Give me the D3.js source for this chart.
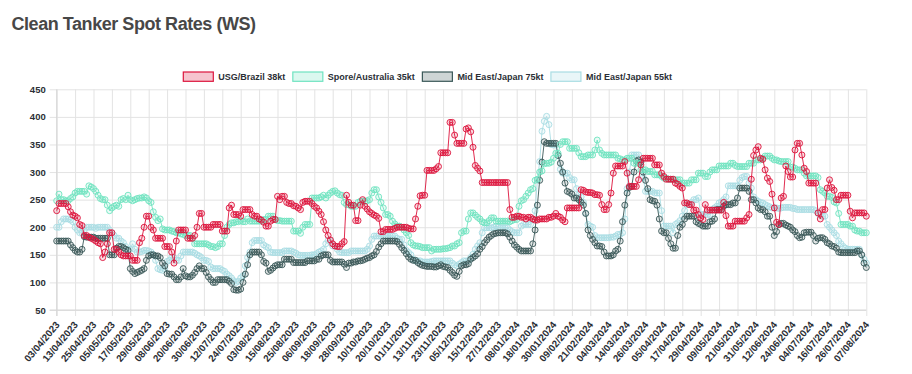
<!DOCTYPE html>
<html><head><meta charset="utf-8">
<script src="https://cdn.jsdelivr.net/npm/d3@7"></script>
<style>html,body{margin:0;padding:0;background:#fff;}svg{display:block;}</style>
</head><body><svg id="chart" width="912" height="374"></svg>
<script>
const chartTitle = "Clean Tanker Spot Rates (WS)";
const seriesNames = ["USG/Brazil 38kt", "Spore/Australia 35kt", "Mid East/Japan 75kt", "Mid East/Japan 55kt"];
const seriesColors = ["#dc143c", "#6fe3c0", "#3a5858", "#a9dde3"];
const startDate = "03/04/2023"; // weekday categories, 353 trading days
const tickLabels = ["03/04/2023","13/04/2023","25/04/2023","05/05/2023","17/05/2023","29/05/2023","08/06/2023","20/06/2023","30/06/2023","12/07/2023","24/07/2023","03/08/2023","15/08/2023","25/08/2023","06/09/2023","18/09/2023","28/09/2023","10/10/2023","20/10/2023","01/11/2023","13/11/2023","23/11/2023","05/12/2023","15/12/2023","27/12/2023","08/01/2024","18/01/2024","30/01/2024","09/02/2024","21/02/2024","04/03/2024","14/03/2024","26/03/2024","05/04/2024","17/04/2024","29/04/2024","09/05/2024","21/05/2024","31/05/2024","12/06/2024","24/06/2024","04/07/2024","16/07/2024","26/07/2024","07/08/2024"];
const yTicks = [50,100,150,200,250,300,350,400,450];

const usgBrazil38 = [
230,243,243,243,243,237,228,222, 220,217,205,203,185,185,182,180,
178,175,172,170,145,155,170,190, 190,160,160,155,150,148,148,148,
148,140,140,140,172,180,200,220, 220,200,195,180,180,180,180,165,
165,165,155,135,175,195,195,195, 195,180,180,180,185,200,225,225,
200,200,200,200,205,205,205,205, 193,193,193,235,240,223,223,223,
220,232,232,232,232,223,220,220, 215,213,209,202,202,211,214,214,
256,250,256,256,245,243,243,239, 238,235,232,245,247,247,247,243,
238,235,229,223,210,195,185,177, 170,166,165,165,170,174,258,245,
240,240,212,212,240,250,238,233, 228,225,222,220,216,192,192,196,
196,196,196,198,200,200,200,200, 200,198,197,197,215,238,257,258,
258,303,303,303,303,306,310,335, 335,335,335,390,390,367,352,352,
352,352,378,380,373,345,312,307, 302,281,281,281,281,281,281,281,
281,281,281,281,281,232,218,218, 220,220,218,218,215,218,218,215,
213,213,215,215,215,215,218,218, 220,225,220,218,213,210,235,235,
235,235,235,235,268,267,264,263, 263,262,259,259,258,241,232,232,
241,262,298,311,311,311,311,319, 298,274,274,274,274,286,313,325,
325,325,325,325,313,313,313,298, 292,287,287,287,287,280,278,274,
271,244,244,241,241,231,231,223, 217,214,241,231,231,231,231,231,
231,231,245,221,202,202,202,211, 211,211,211,211,217,223,287,330,
340,346,325,323,304,289,283,260, 235,209,205,253,256,311,301,291,
291,340,352,352,331,307,301,280, 280,280,280,226,215,232,232,271,
286,272,267,250,250,258,258,258, 258,229,217,226,226,226,226,226,
220];

const sporeAustralia35 = [
248,260,250,250,248,248,252,255, 262,265,265,265,265,260,275,273,
270,265,258,252,250,250,240,230, 235,238,240,238,250,252,250,258,
250,248,250,252,253,253,255,253, 248,245,228,218,212,215,197,195,
195,195,193,192,190,190,188,187, 185,185,185,180,170,170,170,170,
170,170,168,165,165,163,165,170, 170,185,200,205,208,208,210,210,
212,210,210,215,211,211,211,211, 211,211,214,214,220,220,220,214,
212,212,211,211,211,211,211,193, 193,193,189,200,205,205,205,253,
253,253,253,255,258,253,258,262, 265,266,262,259,258,245,241,241,
238,238,238,245,247,247,247,248, 250,262,268,268,255,245,235,223,
223,220,211,206,202,202,200,195, 190,185,172,168,166,166,165,163,
163,163,163,157,160,160,160,160, 161,161,162,163,166,166,170,172,
190,193,193,215,226,226,222,218, 215,210,208,208,212,217,217,211,
211,211,211,211,211,210,212,214, 214,238,248,250,256,262,268,270,
285,287,300,302,315,316,316,318, 325,334,334,350,355,355,355,343,
343,343,343,335,328,328,328,331, 331,331,340,358,340,334,331,331,
331,331,331,331,325,324,322,322, 325,325,325,316,316,316,304,304,
304,301,301,301,295,295,295,292, 289,289,287,287,287,286,286,286,
280,280,280,280,286,286,286,298, 298,298,292,292,300,304,304,304,
311,311,311,311,311,316,316,312, 310,310,310,310,310,316,316,316,
322,322,322,325,329,329,329,325, 322,322,320,319,319,319,319,309,
309,307,304,304,304,298,293,293, 293,293,293,290,268,265,262,256,
256,254,246,244,225,205,205,205, 205,202,202,195,193,193,190,190,
190];

const meJapan75 = [
175,175,175,175,175,175,168,163, 158,155,155,160,183,182,182,182,
182,180,180,180,180,180,180,150, 150,150,162,165,165,163,160,158,
125,120,116,118,120,122,125,140, 148,150,150,148,148,145,135,130,
116,115,115,110,105,105,110,125, 112,110,110,113,118,125,130,125,
125,118,110,105,100,100,105,105, 105,105,105,102,98,87,86,86,
88,100,115,132,150,155,155,155, 155,150,138,135,120,122,126,130,
132,132,132,142,142,142,142,136, 136,136,136,136,136,139,139,139,
139,142,142,148,150,150,150,140, 137,137,137,137,137,133,127,135,
135,137,137,139,139,140,142,144, 145,148,150,156,164,170,175,175,
175,175,175,175,174,169,163,158, 152,146,142,140,140,136,133,131,
130,129,129,129,128,128,130,132, 129,128,127,122,118,113,111,120,
130,132,132,134,142,145,148,152, 160,165,172,177,182,185,188,189,
190,190,190,190,188,182,175,168, 164,160,157,157,157,157,157,170,
195,240,285,318,355,352,352,352, 352,352,330,316,300,280,265,263,
260,253,253,250,245,240,225,195, 185,178,172,166,166,165,155,148,
148,148,150,157,160,175,210,240, 262,272,274,300,320,322,318,300,
285,270,250,248,247,240,215,193, 190,190,180,170,162,162,185,200,
205,215,220,220,220,220,210,207, 205,202,202,202,210,211,215,232,
232,232,238,241,241,241,244,244, 253,271,271,271,271,265,250,250,
244,235,232,232,228,220,220,200, 185,192,205,207,207,204,202,200,
195,192,185,181,182,190,191,191, 191,185,175,180,181,181,178,172,
170,166,165,162,155,154,154,154, 154,154,154,154,157,157,150,135,
127];

const meJapan55 = [
200,200,210,215,215,215,213,210, 200,195,190,190,195,200,200,200,
200,198,200,200,200,200,200,195, 190,185,180,180,175,172,165,160,
160,170,160,155,155,156,158,158, 157,155,150,140,125,123,122,125,
138,140,145,145,140,140,148,155, 155,155,155,155,153,150,148,145,
140,140,138,128,125,125,125,125, 122,120,115,112,108,103,100,102,
108,112,130,145,155,172,176,176, 176,176,168,165,163,155,154,154,
154,154,154,157,157,157,157,155, 153,150,149,149,149,149,149,150,
150,152,155,157,160,170,176,176, 166,166,160,155,154,154,154,154,
157,157,157,157,157,157,157,160, 166,178,184,184,184,184,184,184,
184,184,184,184,180,178,178,168, 158,154,150,142,139,139,139,137,
137,137,137,138,139,139,139,139, 139,139,139,139,135,132,130,133,
136,139,139,139,145,151,160,166, 172,190,199,199,199,199,200,202,
200,199,199,199,199,195,192,190, 190,190,202,205,205,205,205,214,
230,286,319,374,392,401,386,350, 349,349,330,305,298,298,298,290,
286,286,270,259,255,245,225,205, 202,200,185,181,181,181,181,181,
181,182,182,184,187,187,190,215, 270,300,331,331,331,331,320,290,
265,265,265,265,262,262,262,230, 202,202,202,202,190,205,208,212,
220,230,241,241,245,250,250,253, 223,223,223,223,223,232,235,238,
244,246,250,255,275,275,275,275, 275,285,290,292,292,280,271,255,
250,247,245,244,241,239,237,235, 235,235,234,235,236,236,236,236,
234,234,232,232,232,232,232,232, 232,232,230,225,222,220,220,205,
200,195,190,185,175,170,165,162, 160,160,160,160,160,160,150,142,
135];

// weekday categories from the start date
function buildDates(n) {
  const [d0, m0, y0] = startDate.split("/").map(Number);
  const out = [];
  const dt = new Date(y0, m0 - 1, d0);
  const fmt = d3.timeFormat("%d/%m/%Y");
  while (out.length < n) {
    const wd = dt.getDay();
    if (wd !== 0 && wd !== 6) out.push(fmt(dt));
    dt.setDate(dt.getDate() + 1);
  }
  return out;
}
const categories = buildDates(usgBrazil38.length);

const series = [usgBrazil38, sporeAustralia35, meJapan75, meJapan55];

const svg = d3.select("#chart");
const W = 912, H = 374;
const plot = {left: 56.7, right: 866.3, top: 89.3, bottom: 310};

const x = d3.scalePoint().domain(categories).range([plot.left, plot.right]);
const y = d3.scaleLinear().domain([50, 450]).range([plot.bottom, plot.top]);

svg.append("rect").attr("width", W).attr("height", H).attr("fill", "#fff");

// title
svg.append("text").attr("x", 11.5).attr("y", 29.5)
  .attr("font-family", "Liberation Sans, Arial, sans-serif")
  .attr("font-weight", 700).attr("font-size", 18).attr("letter-spacing", -0.45)
  .attr("fill", "#474747").text(chartTitle);

// y grid + axis
const yAxis = d3.axisLeft(y).tickValues(yTicks).tickSize(plot.right - plot.left + 7).tickPadding(4).tickFormat(d3.format("d"));
const gy = svg.append("g").attr("transform", `translate(${plot.right},0)`).call(yAxis);
gy.select(".domain").remove();
gy.selectAll(".tick line").attr("stroke", "#e3e3e3").attr("stroke-width", 1);
gy.selectAll(".tick text").attr("font-family", "Liberation Sans, Arial, sans-serif")
  .attr("font-weight", 700).attr("font-size", 9.5).attr("fill", "#2b2f36");

// x grid + axis
const xAxis = d3.axisBottom(x).tickValues(tickLabels).tickSize(-(plot.bottom - plot.top)).tickPadding(0);
const gx = svg.append("g").attr("transform", `translate(0,${plot.bottom})`).call(xAxis);
gx.select(".domain").remove();
gx.selectAll(".tick line").attr("stroke", "#e3e3e3").attr("stroke-width", 1).attr("y2", 6);
gx.selectAll(".tick").each(function() {
  const t = d3.select(this);
  t.append("line").attr("y1", 0).attr("y2", -(plot.bottom - plot.top)).attr("stroke", "#e3e3e3");
});
gx.selectAll(".tick text")
  .attr("font-family", "Liberation Sans, Arial, sans-serif")
  .attr("font-weight", 700).attr("font-size", 9.8).attr("fill", "#2b2f36")
  .attr("text-anchor", "end").attr("dy", "0")
  .attr("transform", "translate(3,15) rotate(-50)");
// axis border lines
svg.append("line").attr("x1", plot.left).attr("x2", plot.left).attr("y1", plot.top).attr("y2", plot.bottom + 6).attr("stroke", "#d6d6d6");
svg.append("line").attr("x1", plot.left - 7).attr("x2", plot.right).attr("y1", plot.bottom).attr("y2", plot.bottom).attr("stroke", "#d6d6d6");

// series, drawn so that the first dataset ends up on top
const line = d3.line().x((d, i) => x(categories[i])).y(d => y(d));
for (let s = series.length - 1; s >= 0; s--) {
  const g = svg.append("g");
  const col = seriesColors[s];
  g.append("path").datum(series[s]).attr("d", line).attr("fill", "none")
    .attr("stroke", col).attr("stroke-width", 0.9);
  const c = d3.color(col); c.opacity = 0.15;
  g.selectAll("circle").data(series[s]).join("circle")
    .attr("cx", (d, i) => x(categories[i])).attr("cy", d => y(d)).attr("r", 3)
    .attr("fill", c.formatRgb()).attr("stroke", col).attr("stroke-width", 0.9);
}

// legend
const lg = svg.append("g");
let lx = 183.3;
seriesNames.forEach((name, i) => {
  const col = seriesColors[i];
  const f = d3.color(col); f.opacity = 0.25;
  lg.append("rect").attr("x", lx).attr("y", 72).attr("width", 30).attr("height", 9.3)
    .attr("fill", f.formatRgb()).attr("stroke", col).attr("stroke-width", 1.2);
  const t = lg.append("text").attr("x", lx + 35).attr("y", 80)
    .attr("font-family", "Liberation Sans, Arial, sans-serif")
    .attr("font-weight", 700).attr("font-size", 9).attr("fill", "#2b2f36").text(name);
  lx = lx + 35 + t.node().getComputedTextLength() + 7.5;
});
</script></body></html>
